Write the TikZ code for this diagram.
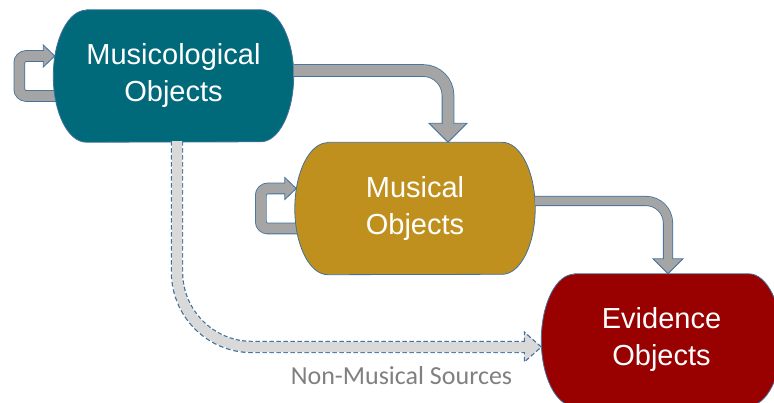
\documentclass[tikz,border=0pt]{standalone}
\usepackage{fontspec}
\setmainfont{Liberation Sans}
\newfontfamily\notefont{Carlito}
\usetikzlibrary{backgrounds}

\definecolor{mclteal}{RGB}{0,106,122}
\definecolor{musgold}{RGB}{191,144,30}
\definecolor{evired}{RGB}{153,0,0}
\definecolor{edgeblue}{RGB}{65,113,156}
\definecolor{arrowgray}{RGB}{165,165,165}
\definecolor{srcgray}{RGB}{217,217,217}
\definecolor{notegray}{RGB}{128,128,128}

% terminator outline behind a node (#1 name, #2 fill)
\newcommand\objshape[2]{%
  \draw[objline,fill=#2] ([xshift=33pt]#1.north west) -- ([xshift=-33pt]#1.north east)
    arc[start angle=90,end angle=-90,x radius=33pt,y radius=66pt]
    -- ([xshift=33pt]#1.south west)
    arc[start angle=270,end angle=90,x radius=33pt,y radius=66pt] -- cycle;}

\begin{document}
\begin{tikzpicture}[x=1pt,y=1pt]
    \tikzset{
      obj/.style={minimum width=240pt,minimum height=132pt,inner sep=0pt,
        align=center,text=white,font={\fontsize{29pt}{37pt}\selectfont}},
      objline/.style={draw=edgeblue,line width=.8pt},
      fatline/.style={draw=arrowgray,line width=#1,
        preaction={draw=edgeblue,line width=#1+1.6pt}},
      fathead/.style={fill=arrowgray,draw=edgeblue,line width=.8pt,line join=miter},
      srcline/.style={draw=srcgray,line width=10pt,
        preaction={draw=edgeblue,line width=12.4pt,dash pattern=on 4.5pt off 2.5pt}},
      srchead/.style={fill=srcgray,draw=edgeblue,line width=1.1pt,dash pattern=on 4.5pt off 2.5pt}
    }
    \useasboundingbox (0,0) rectangle (774,402);

    \node[obj] (mcl) at (173.5,326) {Musicological\\Objects};
    \node[obj] (mus) at (415,193.5) {Musical\\Objects};
    \node[obj] (evi) at (661.5,62) {Evidence\\Objects};

    \begin{pgfonlayer}{background}
    % self loops
    \foreach \n in {mcl,mus}{
      \draw[fatline=10pt,rounded corners=7pt] ([xshift=15pt,yshift=-20pt]\n.west)
        -- ++(-49,0) |- ([xshift=-9pt,yshift=20pt]\n.west);
      \filldraw[fathead] ([xshift=-10pt,yshift=25pt]\n.west) -- ([xshift=-10pt,yshift=31pt]\n.west)
        -- ([xshift=1.5pt,yshift=20pt]\n.west) -- ([xshift=-10pt,yshift=9pt]\n.west)
        -- ([xshift=-10pt,yshift=15pt]\n.west);
    }
    \objshape{mcl}{mclteal}
    \objshape{mus}{musgold}
    \objshape{evi}{evired}
    \end{pgfonlayer}

    % mcl -> mus
    \draw[fatline=11pt,rounded corners=25pt] ([yshift=5.5pt]mcl.east)
      -| ([xshift=33pt,yshift=18pt]mus.north);
    \filldraw[fathead] ([xshift=27.5pt,yshift=19pt]mus.north) -- ([xshift=14pt,yshift=19pt]mus.north)
      -- ([xshift=33pt]mus.north) -- ([xshift=52pt,yshift=19pt]mus.north)
      -- ([xshift=38.5pt,yshift=19pt]mus.north);
    % mus -> evi
    \draw[fatline=8.5pt,rounded corners=22pt] ([yshift=7.5pt]mus.east)
      -| ([xshift=6.5pt,yshift=14pt]evi.north);
    \filldraw[fathead] ([xshift=2.25pt,yshift=15pt]evi.north) -- ([xshift=-8.5pt,yshift=15pt]evi.north)
      -- ([xshift=6.5pt]evi.north) -- ([xshift=21.5pt,yshift=15pt]evi.north)
      -- ([xshift=10.75pt,yshift=15pt]evi.north);
    % mcl -> evi, dashed
    \draw[srcline,rounded corners=75pt] ([xshift=3.5pt,yshift=1pt]mcl.south)
      |- ([xshift=-16pt,yshift=-7pt]evi.west);
    \filldraw[srchead] ([xshift=-17pt,yshift=-2pt]evi.west) -- ([xshift=-17pt,yshift=8pt]evi.west)
      -- ([yshift=-7pt]evi.west) -- ([xshift=-17pt,yshift=-22pt]evi.west)
      -- ([xshift=-17pt,yshift=-12pt]evi.west);
    \node[text=notegray,font={\notefont\fontsize{26pt}{30pt}\selectfont}] (src) at (401.5,26)
      {Non-Musical Sources};
\end{tikzpicture}
\end{document}
